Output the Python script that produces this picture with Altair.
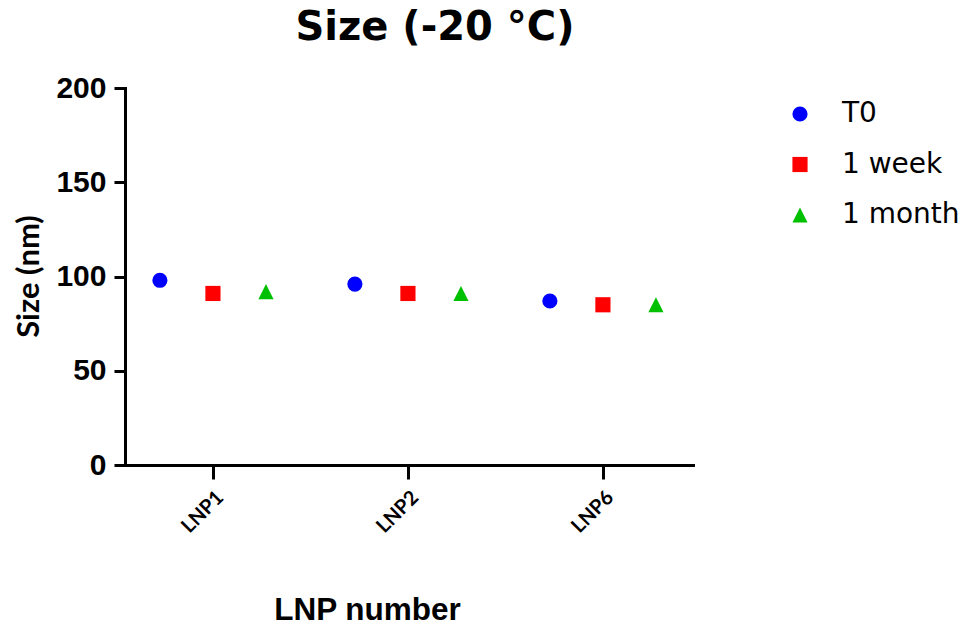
import altair as alt
import pandas as pd

categories = ["LNP1", "LNP2", "LNP6"]
series = ["T0", "1 week", "1 month"]
t0 = [98, 96, 87]
week1 = [91, 91, 85]
month1 = [92, 91, 85]

rows = []
for s, vals in zip(series, [t0, week1, month1]):
    for c, v in zip(categories, vals):
        rows.append({"LNP": c, "Time": s, "Size": v})
df = pd.DataFrame(rows)

cat_js = "[" + ",".join(f"'{c}'" for c in categories) + "]"
ser_js = "[" + ",".join(f"'{s}'" for s in series) + "]"

tri = "M0,-1L1,1L-1,1Z"

chart = alt.Chart(df).transform_calculate(
    xpos=f"indexof({cat_js}, datum.LNP) + (indexof({ser_js}, datum.Time) - 1) * 0.272"
).mark_point(filled=True, opacity=1, size=230).encode(
    x=alt.X("xpos:Q",
            scale=alt.Scale(domain=[-0.451, 2.462], nice=False, zero=False),
            axis=alt.Axis(values=[0, 1, 2], labelExpr=f"{cat_js}[datum.value]",
                          title="LNP number", grid=False,
                          labelAngle=-45, labelAlign="right", labelBaseline="top",
                          labelFont="Lato", labelFontWeight="bold", labelFontSize=20,
                          labelColor="black", labelPadding=8,
                          tickSize=14, tickWidth=3, tickColor="black",
                          domainWidth=3, domainColor="black",
                          titleFont="Liberation Sans", titleFontSize=31.5, titleFontWeight="bold",
                          titleColor="black", titleX=242, titleY=145, titleBaseline="middle",
                          titleAlign="center")),
    y=alt.Y("Size:Q",
            scale=alt.Scale(domain=[0, 200], nice=False),
            axis=alt.Axis(values=[0, 50, 100, 150, 200], title="Size (nm)", grid=False,
                          labelFont="Liberation Sans", labelFontWeight="bold", labelFontSize=30,
                          labelColor="black", labelPadding=8,
                          tickSize=11, tickWidth=3, tickColor="black",
                          domainWidth=3, domainColor="black",
                          titleFont="Lato", titleFontSize=31, titleFontWeight="bold",
                          titleColor="black", titleX=-96, titleY=188, titleAngle=-90,
                          titleBaseline="middle", titleAlign="center")),
    color=alt.Color("Time:N", sort=series,
                    scale=alt.Scale(domain=series, range=["#0000FF", "#FF0000", "#00C000"]),
                    legend=alt.Legend(title=None, orient="none", legendX=661, legendY=12,
                                      labelFont="DejaVu Sans", labelFontSize=28, labelColor="black",
                                      labelOffset=28, rowPadding=22.5, symbolSize=230,
                                      symbolOpacity=1, symbolStrokeWidth=0)),
    shape=alt.Shape("Time:N", sort=series,
                    scale=alt.Scale(domain=series, range=["circle", "square", tri])),
).properties(
    width=568, height=377,
    title=alt.TitleParams("Size (-20 °C)", font="DejaVu Sans", fontSize=40, fontWeight="bold",
                          color="black", anchor="middle", dx=26, offset=-7,
                          baseline="alphabetic", frame="group"),
    autosize=alt.AutoSizeParams(type="none"),
    padding={"left": 117, "top": 80, "right": 273, "bottom": 163},
).configure_view(stroke=None).configure_axis(domainCap="square")

chart.save("out.html", embed_options={"renderer": "svg", "actions": False})
